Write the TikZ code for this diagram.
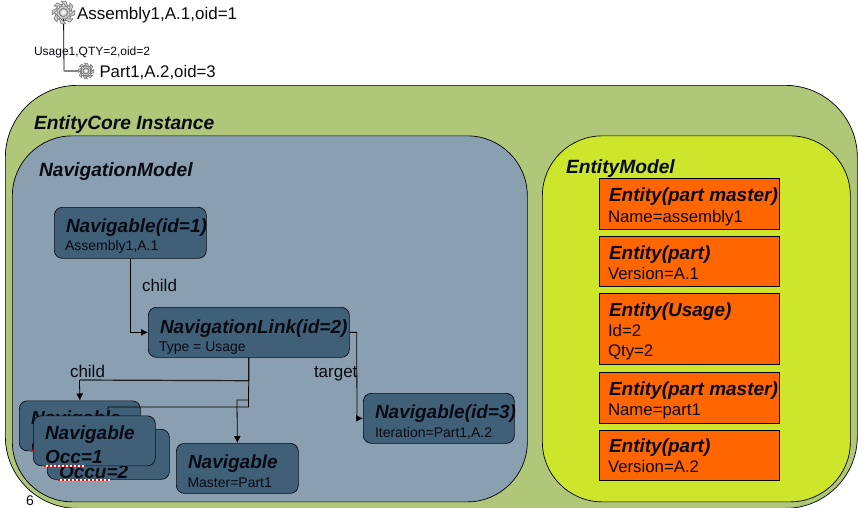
\documentclass[tikz,border=0pt]{standalone}
\usepackage{fontspec}
\setmainfont{Liberation Sans}
\usetikzlibrary{arrows.meta,calc}
\definecolor{outerc}{HTML}{B0C678}
\definecolor{navc}{HTML}{8AA0B0}
\definecolor{boxc}{HTML}{406078}
\definecolor{entc}{HTML}{CDE62C}
\definecolor{orc}{HTML}{FF6600}
\definecolor{inkc}{HTML}{0A0A14}
\definecolor{gearc}{HTML}{CFCFCF}
\definecolor{geard}{HTML}{858585}
\newcommand{\fsz}[1]{\fontsize{#1}{#1}\selectfont}
\newcommand{\cogat}[2]{%
  \fill[gearc,draw=geard,line width=0.7pt,line join=round]
    \foreach \k [evaluate=\k as \a using \k*45] in {0,...,7} {
      {[rotate around={\a:(#1)}]
       \ifnum\k=0 ($(#1)+(-0.2*#2,-0.98*#2)$) \else -- ($(#1)+(-0.2*#2,-0.98*#2)$) \fi
       -- ($(#1)+(0.2*#2,-0.98*#2)$) -- ($(#1)+(0.3*#2,-0.68*#2)$) -- ($(#1)+(0.47*#2,-0.55*#2)$)}
    } -- cycle;
  \fill[gearc,draw=geard,line width=1pt] (#1) circle[radius=0.36*#2];
  \fill[white!70!gearc] (#1) circle[radius=0.2*#2];
}
\newcommand{\squig}[2]{%
  \draw[white,line width=2pt] (#1) -- (#2);
  \draw[red,line width=2pt,dash pattern=on 2pt off 2pt] (#1) -- (#2);
}
\tikzset{
  panel/.style={draw=black,line width=0.7pt,rounded corners=#1,inner sep=0pt,anchor=north west},
  navbox/.style={draw=inkc,fill=boxc,line width=0.7pt,rounded corners=8pt,inner sep=0pt,anchor=north west},
  entbox/.style={draw=black,fill=orc,line width=0.9pt,inner sep=0pt,anchor=north west},
  txt/.style={anchor=base west,inner sep=0pt,outer sep=0pt,text=inkc},
  ptitle/.style={txt,font=\fsz{19.2}\bfseries\itshape},
  head/.style={txt,font=\fsz{19}\bfseries\itshape},
  occ/.style={txt,font=\fsz{19}\bfseries\itshape},
  sub/.style={txt,font=\fsz{14}},
  esub/.style={txt,font=\fsz{16.8}},
  lab/.style={txt,font=\fsz{17}},
  link/.style={draw=black,line width=0.8pt},
  tip/.style={-{Latex[length=7pt,width=7pt]}},
}
\begin{document}
\begin{tikzpicture}[x=1pt,y=-1pt]
\useasboundingbox (0,0) rectangle (858,507);
\begin{scope}
\clip (0,0) rectangle (858,507);
\node[panel=72pt,fill=outerc,minimum width=852pt,minimum height=423pt] (outer) at (5,85) {};
\end{scope}
\node[panel=60pt,fill=navc,minimum width=515pt,minimum height=366pt] (navp) at (12,135.5) {};
\node[panel=60pt,fill=entc,minimum width=308pt,minimum height=366pt] (entp) at (542,135.5) {};

% tree
\coordinate (g1) at (63.5,12.5);
\coordinate (g2) at (86,71);
\draw[link] (g1) -- (64,71);
\draw[draw=geard,line width=1.2pt] (64,71) -- (g2);
\cogat{g1}{11.5}
\cogat{g2}{8}
\node[txt,font=\fsz{17}] (t1) at (77,19) {Assembly1,A.1,oid=1};
\node[txt,font=\fsz{16.8}] (t2) at (99.5,77) {Part1,A.2,oid=3};
\node[txt,font=\fsz{12}] (t3) at (34,55) {Usage1,QTY=2,oid=2};

\node[ptitle] (tcore) at (34,129) {EntityCore Instance};
\node[ptitle] (tnav) at (39,176) {NavigationModel};
\node[ptitle] (tent) at (566,173) {EntityModel};

% navigation boxes
\node[navbox,minimum width=152pt,minimum height=51pt] (nav1) at (54,207) {};
\node[head] at (66,232) (nav1t) {Navigable(id=1)};
\node[sub] at (65,250) (nav1s) {Assembly1,A.1};

\node[navbox,minimum width=201pt,minimum height=50pt] (lnk) at (148,307) {};
\node[head] at (160,333) (lnkt) {NavigationLink(id=2)};
\node[sub] at (159,351) (lnks) {Type = Usage};

\node[navbox,minimum width=151pt,minimum height=50pt] (nav3) at (363,393) {};
\node[head] at (375,418) (nav3t) {Navigable(id=3)};
\node[sub] at (375,437) (nav3s) {Iteration=Part1,A.2};

\node[navbox,minimum width=122pt,minimum height=50pt] (mast) at (176,443) {};
\node[occ] at (188,468) (mastt) {Navigable};
\node[sub] at (187.5,487) (masts) {Master=Part1};

\node[navbox,minimum width=121pt,minimum height=50pt] (back) at (19,400.5) {};
\node[occ] at (31,424) (backt) {Navigable};
\node[occ] at (31,452) (backs) {Occ};
\squig{31,451}{60,451}

\node[navbox,minimum width=122pt,minimum height=50pt] (bk2) at (47,429) {};
\node[occ] at (59,478) (bk2s) {Occu=2};
\squig{58,480}{110,480}

% connectors
\coordinate (fronttop) at (108,415);
\draw[link,tip] (nav1.south) |- (lnk.west);
\draw[link,tip] (lnk.east) -- ++(7,0) -- ($(nav3.west)+(-6,0)$) -- (nav3.west);
\draw[link,draw=black!80!navc,line width=1.2pt] (lnk.south) -- ++(0,23) -- (79.5,380);
\draw[link,tip] (79.5,380) -- (back.north);
\draw[link] (lnk.south) -- (248.5,407) -- (108,407) -- (fronttop);
\draw[link,tip] (248.5,400) -- (237,400) -- (mast.north);

\node[navbox,minimum width=122pt,minimum height=50pt] (front) at (33,415.5) {};
\node[occ] at (45,439) (frontt) {Navigable};
\node[occ] at (45,463) (fronts) {Occ=1};
\squig{44,465.5}{84,465.5}

\node[lab] (c1) at (142,291) {child};
\node[lab] (c2) at (70,377) {child};
\node[lab] (c3) at (314,377) {target};
\node[txt,font=\fsz{14}] (pg) at (26,505) {6};

% entity boxes
\node[entbox,minimum width=179.5pt,minimum height=50.5pt] (e1) at (599,178) {};
\node[head] at (609,201) (e1t) {Entity(part master)};
\node[esub] at (608,222) (e1s) {Name=assembly1};
\node[entbox,minimum width=179.5pt,minimum height=50.5pt] (e2) at (599,235.5) {};
\node[head] at (609,259) (e2t) {Entity(part)};
\node[esub] at (608,279) (e2s) {Version=A.1};
\node[entbox,minimum width=179.5pt,minimum height=71pt] (e3) at (599,293) {};
\node[head] at (609,316) (e3t) {Entity(Usage)};
\node[esub] at (608,336) (e3s) {Id=2};
\node[esub] at (608,356) (e3q) {Qty=2};
\node[entbox,minimum width=179.5pt,minimum height=50.5pt] (e4) at (599,372) {};
\node[head] at (609,395) (e4t) {Entity(part master)};
\node[esub] at (608,415) (e4s) {Name=part1};
\node[entbox,minimum width=179.5pt,minimum height=50pt] (e5) at (599,429.5) {};
\node[head] at (609,452) (e5t) {Entity(part)};
\node[esub] at (608,472) (e5s) {Version=A.2};
\end{tikzpicture}
\end{document}
